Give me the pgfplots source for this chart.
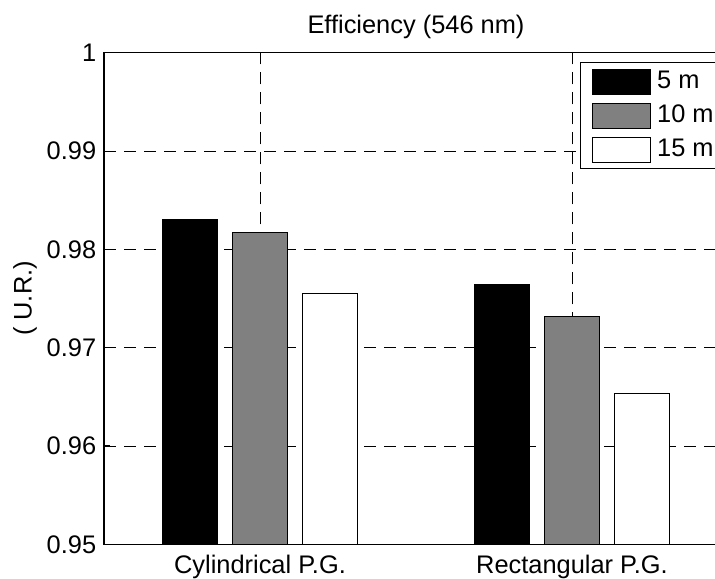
\documentclass[border=0pt]{standalone}
\usepackage{fontspec}
\setmainfont{Liberation Sans}
\usepackage{pgfplots}
\pgfplotsset{compat=1.18}
\newcommand{\myfont}{\fontsize{12.7}{15}\selectfont}
\definecolor{bargray}{RGB}{128,128,128}
\begin{document}
\myfont
\begin{tikzpicture}
\begin{axis}[
  name=ax,
  scale only axis,
  width=312pt, height=245.8pt,
  xmin=0.5, xmax=2.5,
  ymin=0.95, ymax=1,
  ybar, bar width=0.178,
  legend image code/.code={\draw[#1] (2pt,-6.25pt) rectangle (31pt,6.25pt); \path[draw=none, fill=none] (0pt,0pt) -- (32.5pt,0pt);},
  xtick={1,2},
  xticklabels={Cylindrical P.G., Rectangular P.G.},
  ytick={0.95,0.96,0.97,0.98,0.99,1},
  /pgf/number format/assume math mode=true,
  yticklabel style={/pgf/number format/fixed, /pgf/number format/precision=2, font=\myfont, xshift=0.5pt},
  xticklabel style={font=\myfont, yshift=-1pt},
  tick align=inside,
  major tick length=3pt,
  tick style={black, line width=0.5pt},
  axis line style={black, line width=0.6pt},
  xmajorgrids, ymajorgrids,
  grid style={black, line width=0.4pt, dash pattern=on 6pt off 4pt},
  title={Efficiency (546 nm)},
  title style={font=\myfont, at={(axis description cs:0.5,1)}, anchor=base, yshift=3.5pt},
  ylabel={( U.R.)},
  ylabel style={font=\myfont, at={(axis description cs:-0.1266,0.5)}, anchor=center},
  legend cell align=left,
  legend style={font=\myfont, at={(axis description cs:0.7628,0.9803)}, anchor=north west,
    draw=black, line width=0.5pt, fill=white, inner xsep=3.85pt, inner ysep=2pt, row sep=2.3pt},
]
\addplot[draw=black, line width=0.4pt, fill=black, bar shift=-0.224]
  coordinates {(1,0.9830) (2,0.9764)};
\addplot[draw=black, line width=0.4pt, fill=bargray, bar shift=0]
  coordinates {(1,0.9817) (2,0.9732)};
\addplot[draw=black, line width=0.4pt, fill=white, bar shift=0.224]
  coordinates {(1,0.9755) (2,0.9653)};
\legend{5 m, 10 m, 15 m}
\end{axis}
\pgfresetboundingbox
\path[use as bounding box] ([shift={(-52pt,-16.85pt)}]ax.south west) rectangle ([shift={(305.5pt,272.15pt)}]ax.south west);
\end{tikzpicture}
\end{document}
